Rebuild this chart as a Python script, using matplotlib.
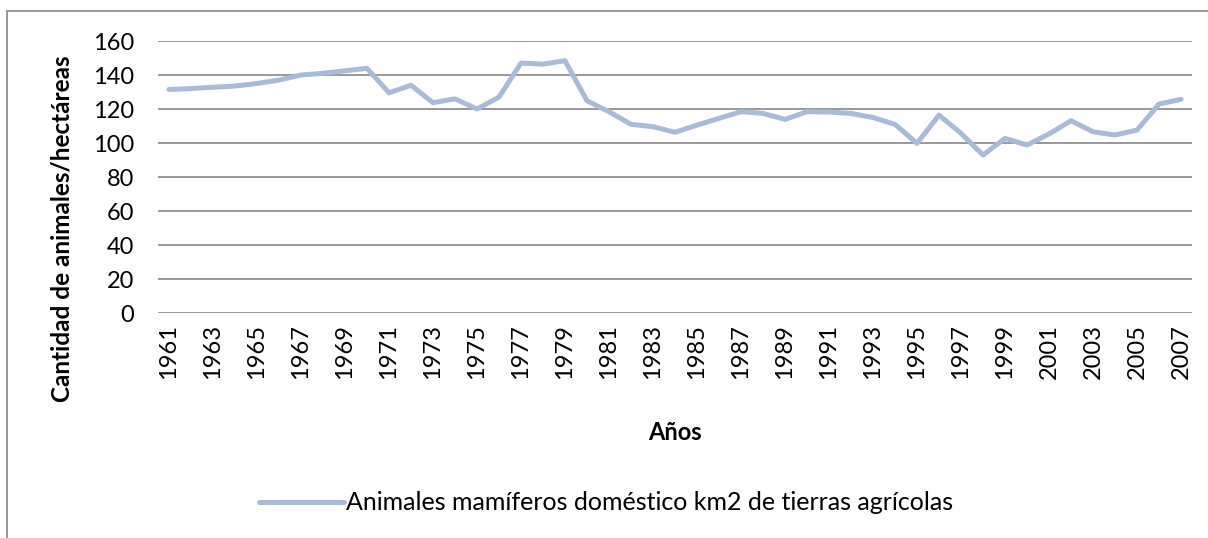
import matplotlib.pyplot as plt
from matplotlib.patches import Rectangle

plt.rcParams['font.family'] = ['Lato', 'DejaVu Sans']

years = list(range(1961, 2008))
valores = [131.5, 132.0, 132.8, 133.5, 135.0, 137.0, 140.0, 141.0, 142.5, 143.9,
           129.5, 134.0, 123.7, 126.0, 120.0, 127.0, 147.0, 146.4, 148.4, 124.8,
           118.4, 111.0, 109.6, 106.3, 110.5, 114.5, 118.4, 117.4, 113.9, 118.4,
           118.2, 117.4, 115.0, 111.0, 99.8, 116.4, 105.7, 92.9, 102.7, 98.8,
           105.3, 113.1, 106.6, 104.7, 107.6, 122.9, 125.7]
serie = "Animales mamíferos doméstico km2 de tierras agrícolas"
y_ticks = [0, 20, 40, 60, 80, 100, 120, 140, 160]

W, H = 1208, 538
fig = plt.figure(figsize=(W / 100, H / 100), dpi=100)
ax = fig.add_axes([158 / W, 1 - 313 / H, (1192 - 158) / W, (313 - 41) / H])

x = list(range(len(years)))
line, = ax.plot(x, valores, color='#A9BBD8', linewidth=3.6, solid_capstyle='round',
                solid_joinstyle='round')

ax.set_xlim(-0.5, len(years) - 0.5)
ax.set_ylim(0, 160)
ax.set_yticks(y_ticks)
ax.yaxis.grid(True, color='#888888', linewidth=1.2)
ax.set_axisbelow(True)
ax.set_xticks(x[::2])
ax.set_xticklabels([str(y) for y in years[::2]], rotation=90)
ax.tick_params(axis='both', length=0, labelsize=17, colors='black')
ax.tick_params(axis='x', pad=8)
ax.tick_params(axis='y', pad=17)
for s in ax.spines.values():
    s.set_visible(False)

fig.text(675 / W, 1 - 432 / H, "Años", ha='center', va='center',
         fontsize=17, fontweight='bold')
fig.text(62 / W, 1 - 229 / H, "Cantidad de animales/hectáreas", ha='center',
         va='center', rotation=90, fontsize=17.5, fontweight='bold')

fig.legend([line], [serie], loc='center', bbox_to_anchor=(606 / W, 1 - 503 / H),
           frameon=False, fontsize=18, handlelength=3.4, handletextpad=0.05)

fig.patches.append(Rectangle((7 / W, -0.05), 1.1, 1 - 11 / H + 0.05,
                             transform=fig.transFigure, fill=False,
                             edgecolor='#888888', linewidth=1.2))

fig.savefig('out.png', dpi=100)
